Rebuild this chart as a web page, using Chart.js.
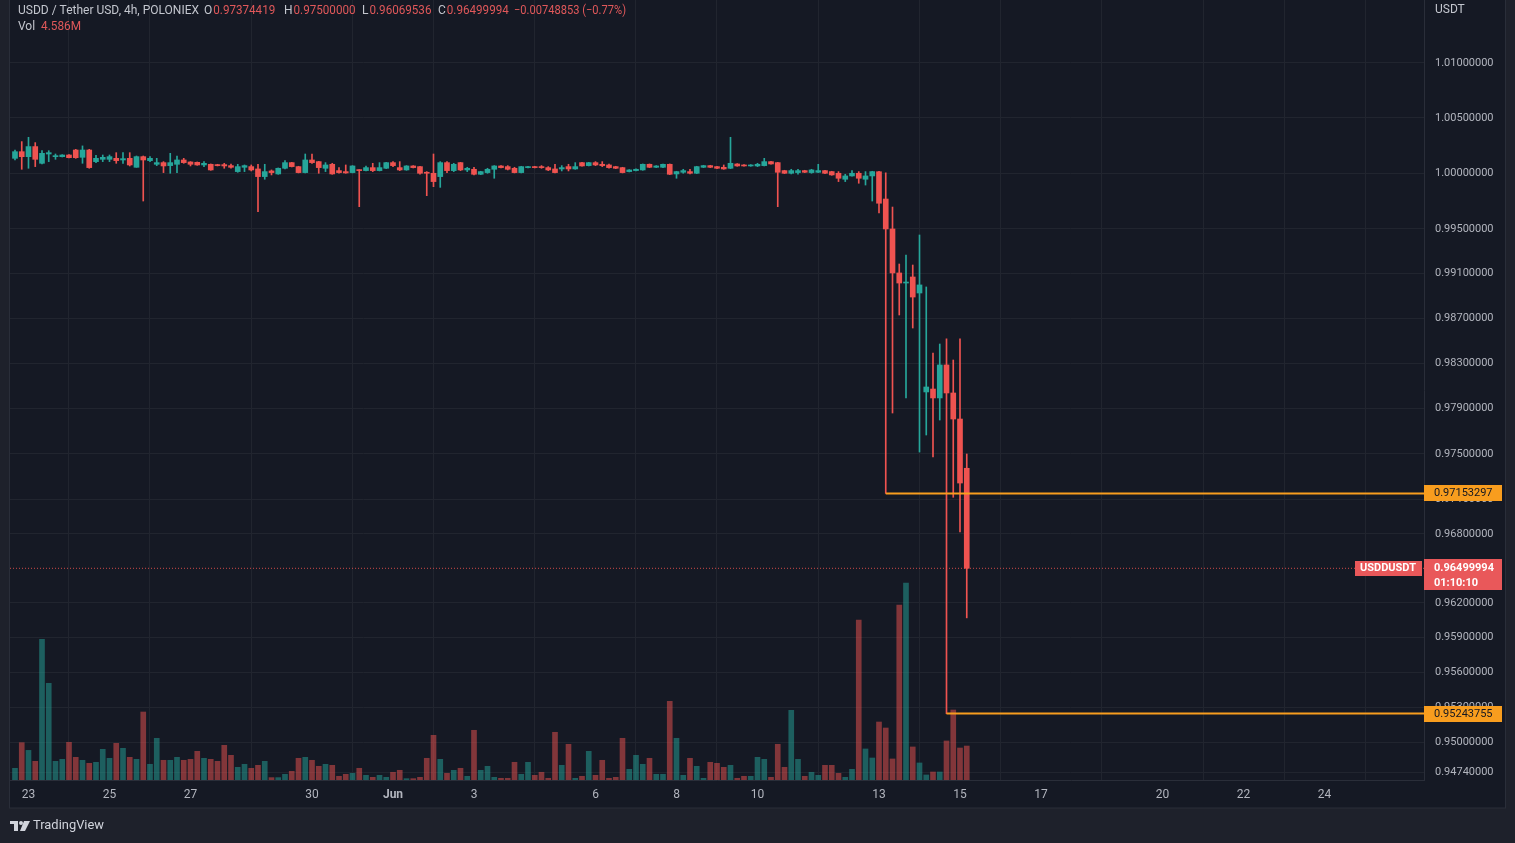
<!DOCTYPE html>
<html>
<head>
<meta charset="utf-8">
<script src="https://cdn.jsdelivr.net/npm/chart.js@4.4.1/dist/chart.umd.min.js"></script>
<style>
html, body { margin: 0; padding: 0; background: #1e212b; overflow: hidden; }
canvas { display: block; }
</style>
</head>
<body>
<canvas id="chart" width="1515" height="843"></canvas>
<script>
// USDD/USDT 4h candles, POLONIEX, May 22 16:00 -> Jun 15 04:00 (candle index 1..142)
const opens = [
  1.00135,1.00195,1.00150,1.00241,1.00090,1.00174,1.00150,1.00150,1.00165,1.00210,
  1.00144,1.00210,1.00105,1.00126,1.00126,1.00135,1.00120,1.00135,1.00054,1.00150,
  1.00114,1.00081,1.00096,1.00069,1.00081,1.00120,1.00102,1.00099,1.00075,1.00081,
  1.00078,1.00078,1.00069,1.00015,1.00054,1.00060,1.00039,0.99970,1.00021,0.99994,
  1.00045,1.00096,1.00060,1.00006,1.00120,1.00105,1.00045,1.00081,1.00024,1.00015,
  1.00006,1.00030,1.00024,1.00051,1.00024,1.00045,1.00096,1.00051,1.00030,1.00066,
  1.00060,1.00009,1.00000,0.99970,1.00096,1.00024,1.00096,1.00030,1.00036,0.99991,
  1.00006,1.00036,1.00066,1.00060,1.00045,1.00006,1.00051,1.00060,1.00060,1.00051,
  1.00039,1.00039,1.00060,1.00039,1.00096,1.00069,1.00096,1.00081,1.00075,1.00060,
  1.00051,1.00015,1.00024,1.00030,1.00081,1.00054,1.00054,1.00081,0.99994,1.00009,
  1.00015,1.00000,1.00054,1.00069,1.00060,1.00054,1.00045,1.00084,1.00075,1.00066,
  1.00066,1.00069,1.00105,1.00096,1.00024,1.00000,1.00006,1.00024,1.00006,1.00009,
  1.00024,1.00015,1.00000,0.99946,0.99976,1.00000,0.99946,0.99976,1.00014,0.99768,
  0.99499,0.99105,0.99015,0.99069,0.98926,0.98047,0.98073,0.97994,0.98286,0.98038,
  0.97808,0.97374419
];
const highs = [
  1.00210,1.00286,1.00325,1.00277,1.00204,1.00204,1.00174,1.00168,1.00168,1.00216,
  1.00247,1.00216,1.00162,1.00165,1.00165,1.00186,1.00186,1.00186,1.00156,1.00156,
  1.00150,1.00135,1.00105,1.00180,1.00156,1.00135,1.00105,1.00102,1.00105,1.00084,
  1.00081,1.00090,1.00084,1.00081,1.00075,1.00075,1.00081,1.00081,1.00030,1.00048,
  1.00114,1.00099,1.00063,1.00174,1.00174,1.00108,1.00096,1.00090,1.00051,1.00075,
  1.00069,1.00033,1.00066,1.00090,1.00096,1.00099,1.00105,1.00105,1.00069,1.00069,
  1.00063,1.00015,1.00174,1.00105,1.00105,1.00090,1.00099,1.00054,1.00054,1.00018,
  1.00045,1.00069,1.00069,1.00069,1.00054,1.00063,1.00063,1.00063,1.00069,1.00060,
  1.00081,1.00069,1.00081,1.00096,1.00099,1.00099,1.00105,1.00105,1.00084,1.00063,
  1.00054,1.00033,1.00039,1.00084,1.00084,1.00069,1.00084,1.00084,1.00018,1.00036,
  1.00036,1.00063,1.00072,1.00072,1.00063,1.00075,1.00325,1.00087,1.00078,1.00078,
  1.00090,1.00135,1.00108,1.00099,1.00027,1.00036,1.00036,1.00027,1.00036,1.00081,
  1.00027,1.00018,1.00015,0.99991,1.00024,1.00015,1.00015,1.00018,1.00018,1.00003,
  0.99696,0.99185,0.99266,0.99176,0.99445,0.98980,0.98392,0.98472,0.98517,0.98330,
  0.98517,0.97500000
];
const lows = [
  1.00120,1.00036,1.00045,1.00060,1.00084,1.00105,1.00126,1.00147,1.00138,1.00135,
  1.00090,1.00045,1.00096,1.00105,1.00105,1.00090,1.00090,1.00066,1.00054,0.99750,
  1.00105,1.00069,1.00006,1.00000,1.00006,1.00090,1.00066,1.00072,1.00060,1.00027,
  1.00066,1.00045,1.00045,1.00009,1.00015,1.00021,0.99654,0.99946,0.99985,0.99991,
  1.00039,1.00057,1.00003,1.00003,1.00090,1.00000,1.00015,0.99991,1.00000,1.00000,
  1.00003,0.99699,1.00021,1.00015,1.00021,1.00042,1.00060,1.00024,1.00027,1.00048,
  0.99991,0.99798,0.99879,0.99873,1.00006,1.00015,1.00024,1.00015,0.99985,0.99988,
  1.00000,0.99955,1.00048,1.00030,1.00003,1.00003,1.00048,1.00048,1.00045,1.00024,
  1.00003,1.00021,1.00021,1.00036,1.00063,1.00066,1.00069,1.00060,1.00045,1.00042,
  1.00003,1.00012,1.00021,1.00027,1.00051,1.00051,1.00051,0.99988,0.99955,1.00000,
  0.99994,0.99997,1.00051,1.00051,1.00042,1.00036,1.00042,1.00063,1.00063,1.00063,
  1.00060,1.00066,1.00081,0.99699,0.99997,0.99994,0.99991,1.00006,1.00000,1.00006,
  0.99997,0.99982,0.99925,0.99925,0.99973,0.99910,0.99894,0.99750,0.99643,0.97153297,
  0.97861,0.98730,0.97994,0.98614,0.97517,0.97667,0.97474,0.97799,0.95243755,0.97120,
  0.96817,0.96069536
];
const closes = [
  1.00195,1.00150,1.00241,1.00126,1.00180,1.00186,1.00156,1.00165,1.00141,1.00141,
  1.00210,1.00051,1.00135,1.00144,1.00150,1.00114,1.00132,1.00075,1.00150,1.00120,
  1.00135,1.00096,1.00066,1.00096,1.00120,1.00096,1.00081,1.00075,1.00090,1.00030,
  1.00069,1.00066,1.00054,1.00060,1.00069,1.00030,0.99970,1.00015,1.00006,1.00045,
  1.00096,1.00060,1.00006,1.00120,1.00096,1.00051,1.00075,0.99994,1.00006,1.00003,
  1.00066,1.00024,1.00051,1.00024,1.00051,1.00096,1.00069,1.00030,1.00066,1.00051,
  1.00000,1.00000,0.99925,1.00096,1.00024,1.00081,1.00030,1.00045,0.99991,1.00015,
  1.00036,1.00066,1.00051,1.00036,1.00006,1.00060,1.00060,1.00051,1.00051,1.00030,
  1.00006,1.00051,1.00039,1.00060,1.00066,1.00096,1.00075,1.00069,1.00051,1.00045,
  1.00006,1.00030,1.00036,1.00081,1.00054,1.00066,1.00081,0.99991,1.00015,1.00024,
  1.00000,1.00060,1.00069,1.00054,1.00045,1.00039,1.00090,1.00066,1.00066,1.00075,
  1.00081,1.00105,1.00084,1.00009,1.00000,1.00024,1.00024,1.00009,1.00030,1.00024,
  1.00000,0.99985,0.99955,0.99976,1.00000,0.99955,0.99976,1.00015,0.99730,0.99499,
  0.99105,0.99015,0.99024,0.98890,0.98998,0.98091,0.97994,0.98286,0.98038,0.97808,
  0.97245,0.96499994
];
// volume in millions
const volumes = [
  1.58,5.04,4.00,2.52,19.0,13.05,2.52,2.79,5.09,3.06,
  2.66,2.25,2.39,4.14,2.93,4.95,4.28,3.06,2.79,9.18,
  2.12,5.63,2.66,2.66,3.06,2.66,2.79,3.87,2.93,2.79,
  2.52,4.68,3.33,1.71,2.12,1.58,1.98,2.52,0.32,0.32,
  0.77,1.17,2.93,3.06,2.66,1.85,2.12,1.98,0.50,0.77,
  0.90,1.58,0.63,0.36,0.63,0.36,1.04,1.31,0.18,0.18,
  0.36,2.93,6.03,2.79,0.90,1.31,1.58,0.50,6.71,1.31,
  1.85,0.36,0.23,0.23,2.39,0.77,2.39,0.63,1.04,0.23,
  6.44,1.98,4.82,0.23,0.50,3.87,0.63,2.66,0.23,0.36,
  5.63,1.44,3.33,2.12,2.93,0.77,0.77,10.62,5.63,0.63,
  2.93,1.85,0.23,2.39,2.25,1.71,1.98,0.23,0.50,0.50,
  3.06,2.79,0.36,4.82,1.71,9.41,2.79,0.50,1.04,0.63,
  1.98,1.98,0.90,0.36,1.44,21.6,4.19,2.97,7.83,7.02,
  2.84,23.6,26.6,4.46,2.30,0.68,1.08,1.08,5.27,9.45,
  4.32,4.586
];

// axis labels
const priceTicks = [1.01, 1.005, 1.0, 0.995, 0.991, 0.987, 0.983, 0.979, 0.975, 0.971,
                    0.968, 0.962, 0.959, 0.956, 0.953, 0.95, 0.9474];
const dateTickIdx = [3, 15, 27, 45, 57, 69, 87, 99, 111, 129, 141, 153, 171, 183, 195];
const dateLabels = ['23', '25', '27', '30', 'Jun', '3', '6', '8', '10', '13', '15', '17', '20', '22', '24'];

// horizontal rays drawn on the chart (start candle, price)
const rayStarts = [130, 139];
const rayPrices = [0.97153297, 0.95243755];
const lastPrice = 0.96499994;

const X_MIN = 0.26, X_MAX = 209.74;
const UP = '#26a69a', DOWN = '#ef5350';
const ORANGE = '#f89d1e';

const isUp = opens.map((o, i) => closes[i] >= o);

const wickData = lows.map((l, i) => ({ x: i + 1, y: [l, highs[i]] }));
const bodyData = opens.map((o, i) => ({ x: i + 1, y: [o, closes[i]] }));
const volData = volumes.map((v, i) => ({ x: i + 1, y: v }));

const rayDatasets = rayPrices.map((p, i) => ({
  type: 'line',
  data: [{ x: rayStarts[i], y: p }, { x: X_MAX, y: p }],
  borderColor: ORANGE,
  borderWidth: 2,
  pointRadius: 0,
  yAxisID: 'y',
  order: 0
}));

function fitText(ctx, txt, x, y, color, maxW) {
  ctx.fillStyle = color;
  if (maxW) ctx.fillText(txt, x, y, maxW); else ctx.fillText(txt, x, y);
}

const tvDecor = {
  id: 'tvDecor',
  beforeDraw(chart) {
    const c = chart.ctx;
    c.save();
    c.fillStyle = '#1e212b';
    c.fillRect(0, 0, chart.width, chart.height);
    c.fillStyle = '#151924';
    c.fillRect(10, 0, 1495, 808);
    c.restore();
  },
  afterDraw(chart) {
    const c = chart.ctx;
    const ys = chart.scales.y;
    c.save();
    // panel frame
    c.strokeStyle = '#2a2e39';
    c.lineWidth = 1;
    c.strokeRect(9.5, -1, 1496, 809);

    // top-left legend
    c.textBaseline = 'middle';
    c.font = '12px Roboto';
    fitText(c, 'USDD / Tether USD, 4h, POLONIEX', 18, 11, '#c3c6ce', 182);
    const parts = [[204, 'O', '0.97374419'], [284, 'H', '0.97500000'], [362, 'L', '0.96069536'], [438, 'C', '0.96499994']];
    parts.forEach(p => {
      fitText(c, p[1], p[0], 11, '#c3c6ce');
      const w = c.measureText(p[1]).width;
      fitText(c, p[2], p[0] + w + 1, 11, '#e0585a', 62);
    });
    fitText(c, '\u22120.00748853 (\u22120.77%)', 514, 11, '#e0585a', 112);
    fitText(c, 'Vol', 18, 27, '#c3c6ce');
    fitText(c, '4.586M', 41, 27, '#e0585a', 40);

    // price scale title
    fitText(c, 'USDT', 1435, 10, '#c3c6ce');

    // orange ray labels
    c.font = '11px Roboto';
    rayPrices.forEach(p => {
      const y = Math.round(ys.getPixelForValue(p));
      c.fillStyle = ORANGE;
      c.fillRect(1424, y - 8, 78, 16);
      c.fillStyle = '#131722';
      c.fillText(p.toFixed(8), 1434, y + 0.5);
    });

    // last price label
    const ly = Math.round(ys.getPixelForValue(lastPrice));
    c.fillStyle = '#e9585a';
    c.fillRect(1424, ly - 9, 78, 31);
    c.fillRect(1355, ly - 7, 67, 15);
    c.fillStyle = '#ffffff';
    c.font = 'bold 11px Roboto';
    c.fillText(lastPrice.toFixed(8), 1434, ly);
    c.fillText('01:10:10', 1434, ly + 15);
    c.fillText('USDDUSDT', 1360, ly + 0.5, 58);

    // bottom logo
    c.fillStyle = '#d1d4dc';
    c.fillRect(10, 821, 8, 3);
    c.fillRect(14, 821, 4, 10);
    c.beginPath();
    c.arc(21, 823, 2, 0, Math.PI * 2);
    c.fill();
    c.beginPath();
    c.moveTo(24, 821); c.lineTo(30, 821); c.lineTo(25, 831); c.lineTo(20, 831);
    c.closePath();
    c.fill();
    c.font = '13px Roboto';
    fitText(c, 'TradingView', 33, 826, '#d1d4dc', 71);
    c.restore();
  }
};

new Chart(document.getElementById('chart'), {
  data: {
    datasets: [
      {
        type: 'bar',
        data: volData,
        yAxisID: 'yVol',
        backgroundColor: isUp.map(u => u ? 'rgba(38,166,154,0.5)' : 'rgba(239,83,80,0.5)'),
        barThickness: 5,
        grouped: false,
        order: 5
      },
      {
        type: 'line',
        data: [{ x: X_MIN, y: lastPrice }, { x: X_MAX, y: lastPrice }],
        borderColor: 'rgba(239,83,80,0.85)',
        borderWidth: 1,
        borderDash: [1, 2],
        pointRadius: 0,
        yAxisID: 'y',
        order: 4
      },
      {
        type: 'bar',
        data: wickData,
        yAxisID: 'y',
        backgroundColor: isUp.map(u => u ? UP : DOWN),
        barThickness: 1,
        grouped: false,
        order: 2
      },
      {
        type: 'bar',
        data: bodyData,
        yAxisID: 'y',
        backgroundColor: isUp.map(u => u ? UP : DOWN),
        barThickness: 5,
        minBarLength: 1,
        grouped: false,
        order: 1
      },
      ...rayDatasets
    ]
  },
  options: {
    responsive: false,
    animation: false,
    devicePixelRatio: 1,
    layout: { padding: { left: 10, right: 10, top: 0, bottom: 35 } },
    plugins: { legend: { display: false }, tooltip: { enabled: false } },
    scales: {
      x: {
        type: 'linear',
        min: X_MIN,
        max: X_MAX,
        offset: false,
        afterBuildTicks: s => { s.ticks = dateTickIdx.map(v => ({ value: v })); },
        afterFit: s => { s.height = 28; s.paddingLeft = 0; s.paddingRight = 0; },
        ticks: {
          autoSkip: false,
          maxRotation: 0,
          padding: 8,
          color: '#b2b5be',
          font: ctx => ({ family: 'Roboto', size: 12, weight: ctx.tick && ctx.tick.label === 'Jun' ? 'bold' : 'normal' }),
          callback: (v, i) => dateLabels[i]
        },
        grid: { color: '#21252f', drawTicks: false },
        border: { color: '#2a2e39' }
      },
      y: {
        type: 'logarithmic',
        position: 'right',
        min: 0.94675,
        max: 1.01575,
        bounds: 'data',
        afterBuildTicks: s => { s.ticks = priceTicks.map(v => ({ value: v })); },
        afterFit: s => { s.width = 81; s.paddingTop = 0; s.paddingBottom = 0; },
        ticks: {
          padding: 11,
          color: '#b2b5be',
          font: { family: 'Roboto', size: 11 },
          callback: v => Number(v).toFixed(8)
        },
        grid: { color: '#21252f', drawTicks: false },
        border: { color: '#2a2e39' }
      },
      yVol: {
        type: 'linear',
        display: false,
        min: 0,
        max: 105.3
      }
    }
  },
  plugins: [tvDecor]
});
</script>
</body>
</html>
